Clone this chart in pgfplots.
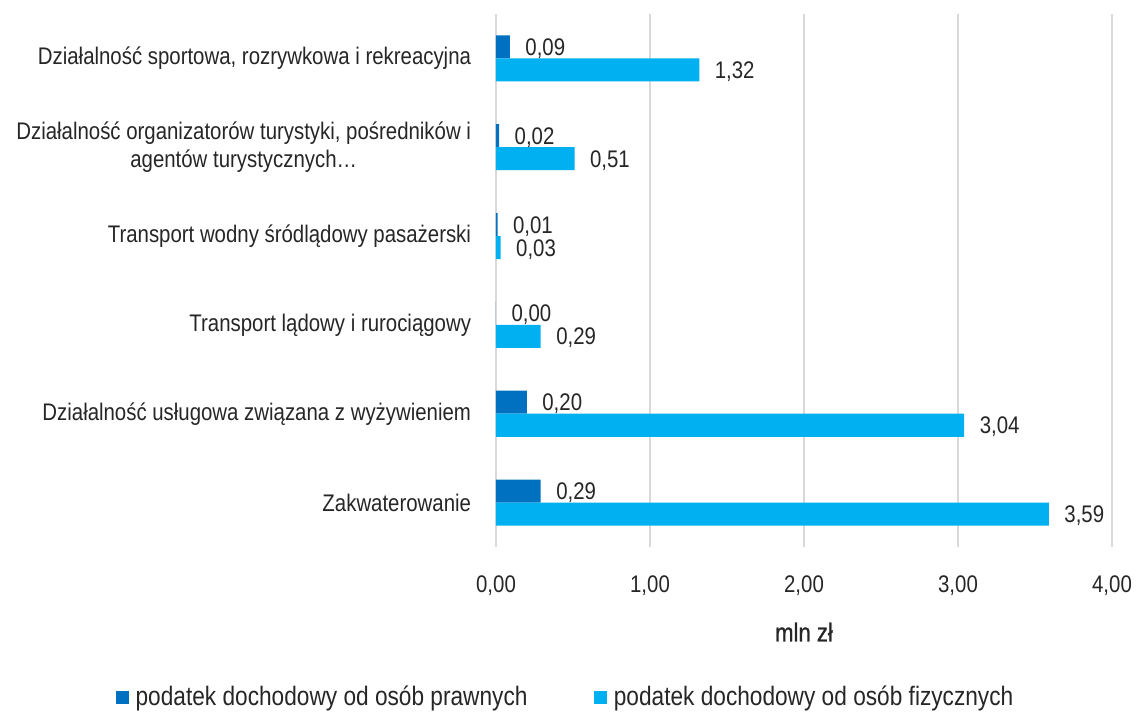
\documentclass[border=0pt]{standalone}
\usepackage{pgfplots}
\pgfplotsset{compat=1.18}
\usepackage{fontspec}
\setmainfont{Liberation Sans}[FakeStretch=0.85]
\definecolor{prawne}{HTML}{0070C0}
\definecolor{fizyczne}{HTML}{00B0F0}
\definecolor{siatka}{HTML}{D9D9D9}
\definecolor{tekst}{HTML}{262626}
\pgfplotsset{kwadrat/.style={legend image code/.code={\fill[##1] (0pt,-4.875pt) rectangle (9.75pt,4.875pt);}}}

\begin{document}
\begin{tikzpicture}[font=\fontsize{18}{21}\selectfont, text=tekst]
\begin{axis}[
  scale only axis,
  width=462pt, height=399.75pt,
  xbar, bar width=17.25pt,
  xmin=0, xmax=4, ymin=-0.5, ymax=5.5,
  clip=false,
  axis line style={draw=none},
  tick style={draw=none},
  xmajorgrids, grid style={siatka, line width=0.9pt},
  xtick={0,1,2,3,4},
  xticklabel={\pgfmathprintnumber[assume math mode=true,fixed,fixed zerofill,precision=2,use comma]{\tick}},
  xticklabel style={inner sep=0pt, anchor=north, yshift=-21pt},
  ytick={0,...,5},
  yticklabels={Zakwaterowanie,
    Działalność usługowa związana z wyżywieniem,
    Transport lądowy i rurociągowy,
    Transport wodny śródlądowy pasażerski,
    {Działalność organizatorów turystyki, pośredników i\\agentów turystycznych\ldots},
    {Działalność sportowa, rozrywkowa i rekreacyjna}},
  yticklabel style={align=center, inner sep=0pt, anchor=east, xshift=-14.25pt},
  xlabel={mln zł},
  xlabel style={at={(axis description cs:0.5,0)}, anchor=center, yshift=-63.75pt, inner sep=0pt,
    font=\fontsize{19.5}{21}\selectfont\addfontfeatures{FakeBold=0.8}},
  point meta=x,
  nodes near coords={\pgfmathprintnumber[assume math mode=true,fixed,fixed zerofill,precision=2,use comma]{\pgfplotspointmeta}},
  every node near coord/.append style={anchor=west, inner sep=0pt, xshift=11.5pt, yshift=-1.25pt, text=tekst},
  legend columns=2,
  legend cell align=left,
  legend style={at={(axis description cs:0.1136,0)}, anchor=center, yshift=-112.5pt,
    draw=none, fill=none, font=\fontsize{20}{22}\selectfont,
    /tikz/every odd column/.append style={column sep=3pt},
    /tikz/every even column/.append style={column sep=48pt}},
]

% podatek od osob prawnych (gorny slupek)
\addplot[fill=prawne, draw=none, bar shift=8.625pt, kwadrat]
  coordinates {(0.29,0) (0.20,1) (0.00,2) (0.01,3) (0.02,4) (0.09,5)};
\addlegendentry{podatek dochodowy od osób prawnych}

% podatek od osob fizycznych (dolny slupek)
\addplot[fill=fizyczne, draw=none, bar shift=-8.625pt, kwadrat]
  coordinates {(3.59,0) (3.04,1) (0.29,2) (0.03,3) (0.51,4) (1.32,5)};
\addlegendentry{podatek dochodowy od osób fizycznych}

\coordinate (lewydol) at (rel axis cs:0,0);
\coordinate (prawygora) at (rel axis cs:1,1);
\end{axis}
\pgfresetboundingbox
\path ([shift={(-372pt,-124.5pt)}]lewydol) rectangle ([shift={(18.75pt,10.5pt)}]prawygora);
\end{tikzpicture}
\end{document}
